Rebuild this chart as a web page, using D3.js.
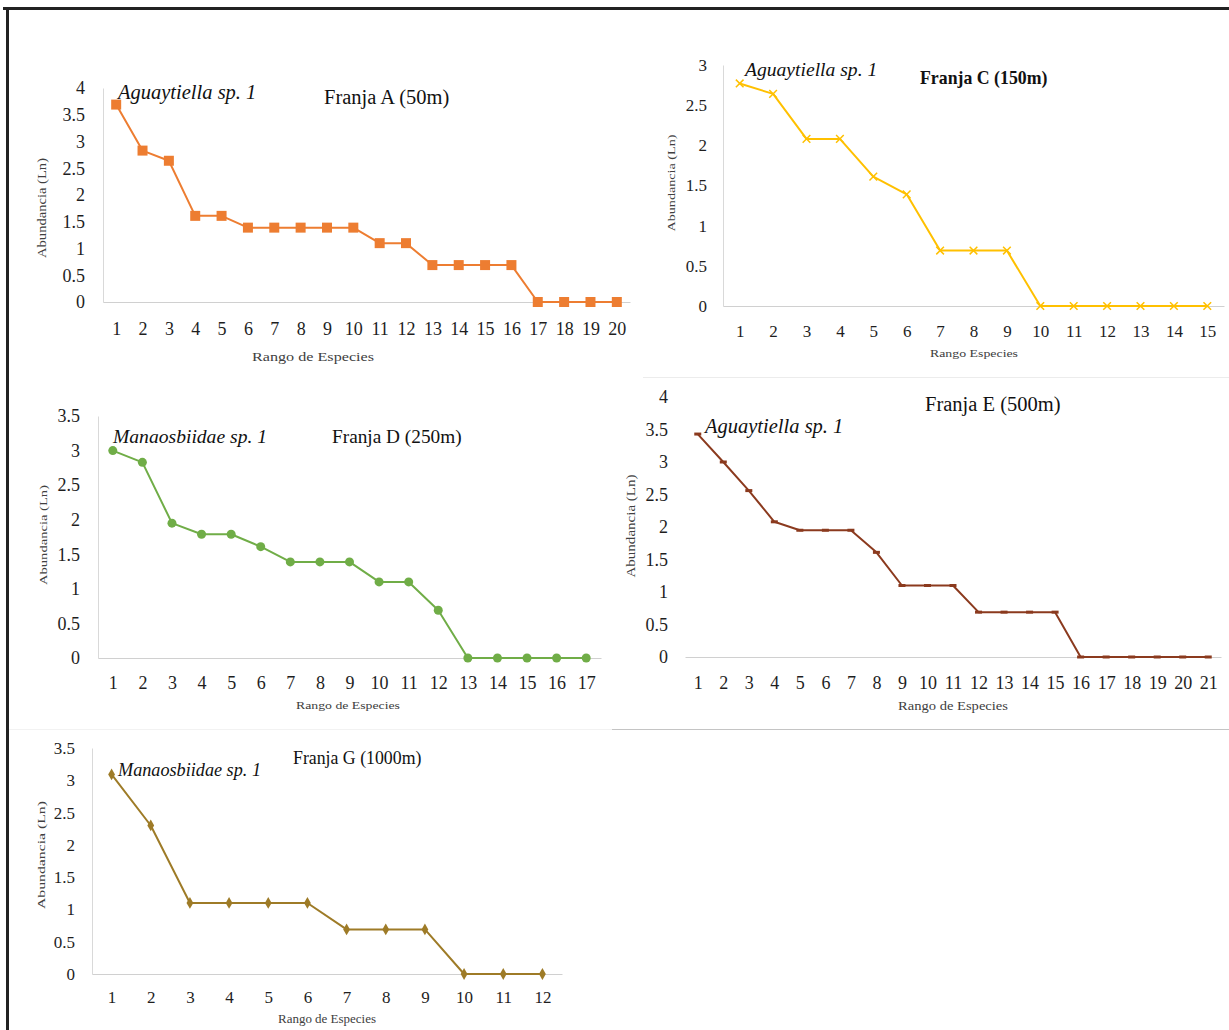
<!DOCTYPE html>
<html>
<head>
<meta charset="utf-8">
<script src="https://cdn.jsdelivr.net/npm/d3@7/dist/d3.min.js"></script>
<style>
  html, body { margin: 0; padding: 0; background: #fff; }
  svg { display: block; }
  text { font-family: "Liberation Serif", "Times New Roman", serif; }
</style>
</head>
<body>
<svg id="chart" width="1229" height="1030"></svg>
<script>
// ---------------- DATA ----------------
const ranksA = [1,2,3,4,5,6,7,8,9,10,11,12,13,14,15,16,17,18,19,20];
const valuesA = [3.69,2.83,2.64,1.61,1.61,1.39,1.39,1.39,1.39,1.39,1.10,1.10,0.69,0.69,0.69,0.69,0,0,0,0];
const yTicksA = [0,0.5,1,1.5,2,2.5,3,3.5,4];

const ranksC = [1,2,3,4,5,6,7,8,9,10,11,12,13,14,15];
const valuesC = [2.77,2.64,2.08,2.08,1.61,1.39,0.69,0.69,0.69,0,0,0,0,0,0];
const yTicksC = [0,0.5,1,1.5,2,2.5,3];

const ranksD = [1,2,3,4,5,6,7,8,9,10,11,12,13,14,15,16,17];
const valuesD = [3.00,2.83,1.95,1.79,1.79,1.61,1.39,1.39,1.39,1.10,1.10,0.69,0,0,0,0,0];
const yTicksD = [0,0.5,1,1.5,2,2.5,3,3.5];

const ranksE = [1,2,3,4,5,6,7,8,9,10,11,12,13,14,15,16,17,18,19,20,21];
const valuesE = [3.43,3.00,2.56,2.08,1.95,1.95,1.95,1.61,1.10,1.10,1.10,0.69,0.69,0.69,0.69,0,0,0,0,0,0];
const yTicksE = [0,0.5,1,1.5,2,2.5,3,3.5,4];

const ranksG = [1,2,3,4,5,6,7,8,9,10,11,12];
const valuesG = [3.09,2.30,1.10,1.10,1.10,1.10,0.69,0.69,0.69,0,0,0];
const yTicksG = [0,0.5,1,1.5,2,2.5,3,3.5];

const titles = ["Franja A (50m)", "Franja C (150m)", "Franja D (250m)", "Franja E (500m)", "Franja G (1000m)"];
const species = ["Aguaytiella sp. 1", "Aguaytiella sp. 1", "Manaosbiidae sp. 1", "Aguaytiella sp. 1", "Manaosbiidae sp. 1"];
const yTitles = ["Abundancia (Ln)", "Abundancia (Ln)", "Abundancia (Ln)", "Abundancia (Ln)", "Abundancia (Ln)"];
const xTitles = ["Rango  de Especies", "Rango Especies", "Rango de Especies", "Rango de Especies", "Rango de Especies"];

// ---------------- LAYOUT / STYLE ----------------
const panels = [
  { ranks: ranksA, values: valuesA, ticks: yTicksA, ymax: 4, color: "#ED7D31", marker: "square",
    x0: 103, x1: 630, yTop: 88, yBot: 302, vAxis: true, tickFs: 18, tickPadY: 18, tickPadX: 20,
    title: { x: 324, y: 104, fs: 20.5, w: "normal" }, sp: { x: 118, y: 99, fs: 20.5 },
    yt: { x: 46, y: 208, fs: 12, len: 100 }, xt: { x: 313, y: 361, fs: 13, len: 122 } },
  { ranks: ranksC, values: valuesC, ticks: yTicksC, ymax: 3, color: "#FFC000", marker: "x",
    x0: 723, x1: 1224, yTop: 65, yBot: 306, vAxis: true, tickFs: 17, tickPadY: 16, tickPadX: 19,
    title: { x: 920, y: 84, fs: 17.8, w: "bold" }, sp: { x: 745, y: 76, fs: 19.6 },
    yt: { x: 675, y: 183, fs: 10, len: 97 }, xt: { x: 974, y: 357, fs: 10, len: 88 } },
  { ranks: ranksD, values: valuesD, ticks: yTicksD, ymax: 3.5, color: "#70AD47", marker: "circle",
    x0: 98, x1: 601, yTop: 416, yBot: 658, vAxis: true, tickFs: 18, tickPadY: 18, tickPadX: 18,
    title: { x: 332, y: 443, fs: 19.3, w: "normal" }, sp: { x: 113, y: 443, fs: 19.6 },
    yt: { x: 47, y: 535, fs: 10, len: 100 }, xt: { x: 348, y: 709, fs: 10, len: 104 } },
  { ranks: ranksE, values: valuesE, ticks: yTicksE, ymax: 4, color: "#8B3A1E", marker: "dash",
    x0: 685, x1: 1221, yTop: 397, yBot: 657, vAxis: false, tickFs: 18, tickPadY: 17, tickPadX: 19,
    title: { x: 925, y: 411, fs: 20.5, w: "normal" }, sp: { x: 705, y: 433, fs: 20.5 },
    yt: { x: 635, y: 526, fs: 12, len: 103 }, xt: { x: 953, y: 710, fs: 13, len: 110 } },
  { ranks: ranksG, values: valuesG, ticks: yTicksG, ymax: 3.5, color: "#9E7B27", marker: "diamond",
    x0: 92, x1: 562, yTop: 748, yBot: 974, vAxis: true, tickFs: 17, tickPadY: 17, tickPadX: 17,
    title: { x: 293, y: 764, fs: 17.8, w: "normal" }, sp: { x: 118, y: 776, fs: 18.2 },
    yt: { x: 45, y: 855, fs: 11, len: 108 }, xt: { x: 327, y: 1023, fs: 12, len: 98 } }
];

const svg = d3.select("#chart");

// outer frame (top + left edges) and separators
svg.append("line").attr("x1", 3).attr("x2", 1229).attr("y1", 8.5).attr("y2", 8.5)
  .attr("stroke", "#222").attr("stroke-width", 3);
svg.append("line").attr("x1", 7.5).attr("x2", 7.5).attr("y1", 7).attr("y2", 1030)
  .attr("stroke", "#222").attr("stroke-width", 3);
svg.append("line").attr("x1", 643).attr("x2", 1229).attr("y1", 377.5).attr("y2", 377.5)
  .attr("stroke", "#ececec").attr("stroke-width", 1);
svg.append("line").attr("x1", 9).attr("x2", 612).attr("y1", 729.5).attr("y2", 729.5)
  .attr("stroke", "#f2f2f2").attr("stroke-width", 1);
svg.append("line").attr("x1", 612).attr("x2", 1229).attr("y1", 729.5).attr("y2", 729.5)
  .attr("stroke", "#c4c4c4").attr("stroke-width", 1);

panels.forEach((p, i) => {
  const g = svg.append("g");
  const x = d3.scalePoint().domain(p.ranks).range([p.x0, p.x1]).padding(0.5);
  const y = d3.scaleLinear().domain([0, p.ymax]).range([p.yBot, p.yTop]);

  // y axis
  const ya = g.append("g").attr("transform", `translate(${p.x0},0)`)
    .call(d3.axisLeft(y).tickValues(p.ticks).tickFormat(d => String(d)).tickSize(0).tickPadding(p.tickPadY));
  ya.select(".domain").attr("stroke", p.vAxis ? "#d9d9d9" : "none").attr("stroke-width", 1);
  ya.selectAll("text").attr("font-size", p.tickFs).attr("fill", "#1e1e1e")
    .style("font-family", '"Liberation Serif", "Times New Roman", serif');

  // x axis
  const xa = g.append("g").attr("transform", `translate(0,${p.yBot})`)
    .call(d3.axisBottom(x).tickSize(0).tickPadding(p.tickPadX));
  xa.select(".domain").attr("stroke", "#d0d0d0").attr("stroke-width", 1);
  xa.selectAll("text").attr("font-size", p.tickFs).attr("fill", "#1e1e1e")
    .style("font-family", '"Liberation Serif", "Times New Roman", serif');

  const pts = p.ranks.map((r, k) => [x(r), y(p.values[k])]);

  // line
  g.append("path").datum(pts)
    .attr("d", d3.line())
    .attr("fill", "none").attr("stroke", p.color).attr("stroke-width", 2)
    .attr("stroke-linejoin", "round");

  // markers
  const mg = g.append("g");
  if (p.marker === "square") {
    mg.selectAll("path").data(pts).join("path")
      .attr("transform", d => `translate(${d[0]},${d[1]})`)
      .attr("d", d3.symbol(d3.symbolSquare, 100)).attr("fill", p.color);
  } else if (p.marker === "circle") {
    mg.selectAll("circle").data(pts).join("circle")
      .attr("cx", d => d[0]).attr("cy", d => d[1]).attr("r", 4.5).attr("fill", p.color);
  } else if (p.marker === "diamond") {
    mg.selectAll("path").data(pts).join("path")
      .attr("transform", d => `translate(${d[0]},${d[1]})`)
      .attr("d", d3.symbol(d3.symbolDiamond, 40)).attr("fill", p.color);
  } else if (p.marker === "x") {
    const xs = d3.symbolX ? d3.symbol(d3.symbolX, 40)
      : () => "M-3.5,-3.5L3.5,3.5M-3.5,3.5L3.5,-3.5";
    mg.selectAll("path").data(pts).join("path")
      .attr("transform", d => `translate(${d[0]},${d[1]})`)
      .attr("d", xs).attr("fill", "none").attr("stroke", p.color).attr("stroke-width", 1.5);
  } else if (p.marker === "dash") {
    mg.selectAll("rect").data(pts).join("rect")
      .attr("x", d => d[0] - 3.5).attr("y", d => d[1] - 1.5)
      .attr("width", 7).attr("height", 3).attr("fill", p.color);
  }

  // title
  g.append("text").attr("x", p.title.x).attr("y", p.title.y)
    .attr("font-size", p.title.fs).attr("font-weight", p.title.w).attr("fill", "#111")
    .text(titles[i]);
  // species annotation
  g.append("text").attr("x", p.sp.x).attr("y", p.sp.y)
    .attr("font-size", p.sp.fs).attr("font-style", "italic").attr("fill", "#111")
    .text(species[i]);
  // y axis title
  g.append("text").attr("transform", `translate(${p.yt.x},${p.yt.y}) rotate(-90)`)
    .attr("text-anchor", "middle").attr("font-size", p.yt.fs).attr("fill", "#404040")
    .attr("textLength", p.yt.len).attr("lengthAdjust", "spacingAndGlyphs")
    .text(yTitles[i]);
  // x axis title
  g.append("text").attr("x", p.xt.x).attr("y", p.xt.y)
    .attr("text-anchor", "middle").attr("font-size", p.xt.fs).attr("fill", "#404040")
    .attr("textLength", p.xt.len).attr("lengthAdjust", "spacingAndGlyphs")
    .text(xTitles[i]);
});
</script>
</body>
</html>
